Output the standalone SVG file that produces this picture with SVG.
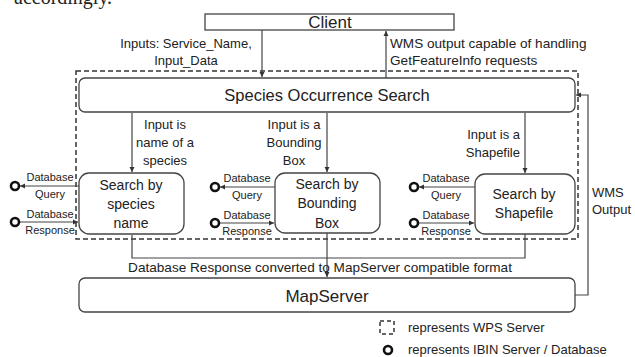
<svg xmlns="http://www.w3.org/2000/svg" width="635" height="357" viewBox="0 0 635 357">
<defs>
<marker id="ah" markerWidth="6" markerHeight="6" refX="5" refY="3" orient="auto" markerUnits="userSpaceOnUse">
<path d="M0,0.5 L5,3 L0,5.5 z" fill="#333"/>
</marker>
<style>
.t{font-family:"Liberation Sans",Arial,sans-serif;fill:#222;text-anchor:middle}
.box{fill:#fff;stroke:#444;stroke-width:1.3}
.ln{fill:none;stroke:#444;stroke-width:1.2}
.db{fill:#fff;stroke:#111;stroke-width:2.6}
.s11{font-size:11px}
.s13{font-size:13px}
.s135{font-size:13.6px}
.s14{font-size:14px}
</style>
</defs>
<rect width="635" height="357" fill="#fff"/>
<text x="14" y="4" style="font-family:'Liberation Serif',serif;font-size:20px;fill:#222">accordingly.</text>

<g id="wps-server">
<rect x="76" y="71" width="502" height="168" fill="none" stroke="#333" stroke-width="1.5" stroke-dasharray="5 3"/>
</g>

<g id="connectors">
<line class="ln" x1="262" y1="30" x2="262" y2="77" marker-end="url(#ah)"/>
<line class="ln" x1="386" y1="78" x2="386" y2="31" marker-end="url(#ah)"/>
<line class="ln" x1="132" y1="113" x2="132" y2="172" marker-end="url(#ah)"/>
<line class="ln" x1="327" y1="113" x2="327" y2="172" marker-end="url(#ah)"/>
<line class="ln" x1="525" y1="113" x2="525" y2="173" marker-end="url(#ah)"/>
<line class="ln" x1="79" y1="186" x2="20" y2="186" marker-end="url(#ah)"/>
<line class="ln" x1="19" y1="222" x2="78" y2="222" marker-end="url(#ah)"/>
<line class="ln" x1="275" y1="187" x2="220" y2="187" marker-end="url(#ah)"/>
<line class="ln" x1="219" y1="223" x2="274" y2="223" marker-end="url(#ah)"/>
<line class="ln" x1="475" y1="187" x2="419" y2="187" marker-end="url(#ah)"/>
<line class="ln" x1="418" y1="223" x2="474" y2="223" marker-end="url(#ah)"/>
<polyline class="ln" points="132,235 132,258 525,258 525,234"/>
<line class="ln" x1="327" y1="233" x2="327" y2="277" marker-end="url(#ah)"/>
<polyline class="ln" points="575,295 588,295 588,95 576,95" marker-end="url(#ah)"/>
<text class="t s13" x="186" y="48">Inputs: Service_Name,</text>
<text class="t s13" x="186" y="65">Input_Data</text>
<text class="t s135" x="390" y="48" style="text-anchor:start">WMS output capable of handling</text>
<text class="t s135" x="390" y="65" style="text-anchor:start">GetFeatureInfo requests</text>
<text class="t s13" x="165" y="129">Input is</text>
<text class="t s13" x="165" y="147">name of a</text>
<text class="t s13" x="165" y="165">species</text>
<text class="t s13" x="294" y="129">Input is a</text>
<text class="t s13" x="294" y="147">Bounding</text>
<text class="t s13" x="294" y="165">Box</text>
<text class="t s13" x="520" y="139" style="text-anchor:end">Input is a</text>
<text class="t s13" x="520" y="157" style="text-anchor:end">Shapefile</text>
<text class="t s11" x="50" y="181">Database</text>
<text class="t s11" x="50" y="198">Query</text>
<text class="t s11" x="50" y="218">Database</text>
<text class="t s11" x="50" y="234">Response</text>
<text class="t s11" x="247" y="182">Database</text>
<text class="t s11" x="247" y="199">Query</text>
<text class="t s11" x="247" y="219">Database</text>
<text class="t s11" x="247" y="235">Response</text>
<text class="t s11" x="446" y="182">Database</text>
<text class="t s11" x="446" y="199">Query</text>
<text class="t s11" x="446" y="219">Database</text>
<text class="t s11" x="446" y="235">Response</text>
<text class="t s135" x="320" y="272">Database Response converted to MapServer compatible format</text>
<text class="t s13" x="592" y="197" style="text-anchor:start">WMS</text>
<text class="t s13" x="592" y="214" style="text-anchor:start">Output</text>
</g>

<g id="client">
<rect x="205" y="14" width="249" height="16" fill="#fff" stroke="#444" stroke-width="1.3"/>
<text class="t" x="330" y="28" style="font-size:17px">Client</text>
</g>

<g id="species-occurrence-search">
<rect class="box" x="79" y="78" width="496" height="34" rx="6"/>
<text class="t" x="327" y="101" style="font-size:16.5px">Species Occurrence Search</text>
</g>

<g id="search-species-name">
<rect class="box" x="79" y="173" width="105" height="61" rx="10"/>
<text class="t s14" x="131" y="190">Search by</text>
<text class="t s14" x="131" y="209">species</text>
<text class="t s14" x="131" y="228">name</text>
</g>

<g id="search-bounding-box">
<rect class="box" x="275" y="173" width="105" height="60" rx="10"/>
<text class="t s14" x="327" y="189">Search by</text>
<text class="t s14" x="327" y="208">Bounding</text>
<text class="t s14" x="327" y="228">Box</text>
</g>

<g id="search-shapefile">
<rect class="box" x="475" y="174" width="100" height="60" rx="10"/>
<text class="t s14" x="524" y="199">Search by</text>
<text class="t s14" x="524" y="218">Shapefile</text>
</g>

<g id="mapserver">
<rect class="box" x="79" y="278" width="496" height="34" rx="6"/>
<text class="t" x="327" y="302" style="font-size:17px">MapServer</text>
</g>

<g id="db-left">
<circle class="db" cx="15" cy="186" r="4"/>
<circle class="db" cx="15" cy="222" r="4"/>
</g>
<g id="db-middle">
<circle class="db" cx="215" cy="187" r="4"/>
<circle class="db" cx="215" cy="223" r="4"/>
</g>
<g id="db-right">
<circle class="db" cx="414" cy="187" r="4"/>
<circle class="db" cx="414" cy="223" r="4"/>
</g>

<g id="legend">
<rect x="380" y="321" width="14" height="13" fill="none" stroke="#333" stroke-width="1.5" stroke-dasharray="4 3"/>
<text class="t" x="408" y="332" style="font-size:13px;text-anchor:start">represents WPS Server</text>
<circle class="db" cx="388" cy="350" r="4"/>
<text class="t" x="408" y="354" style="font-size:13px;text-anchor:start">represents IBIN Server / Database</text>
</g>
</svg>
